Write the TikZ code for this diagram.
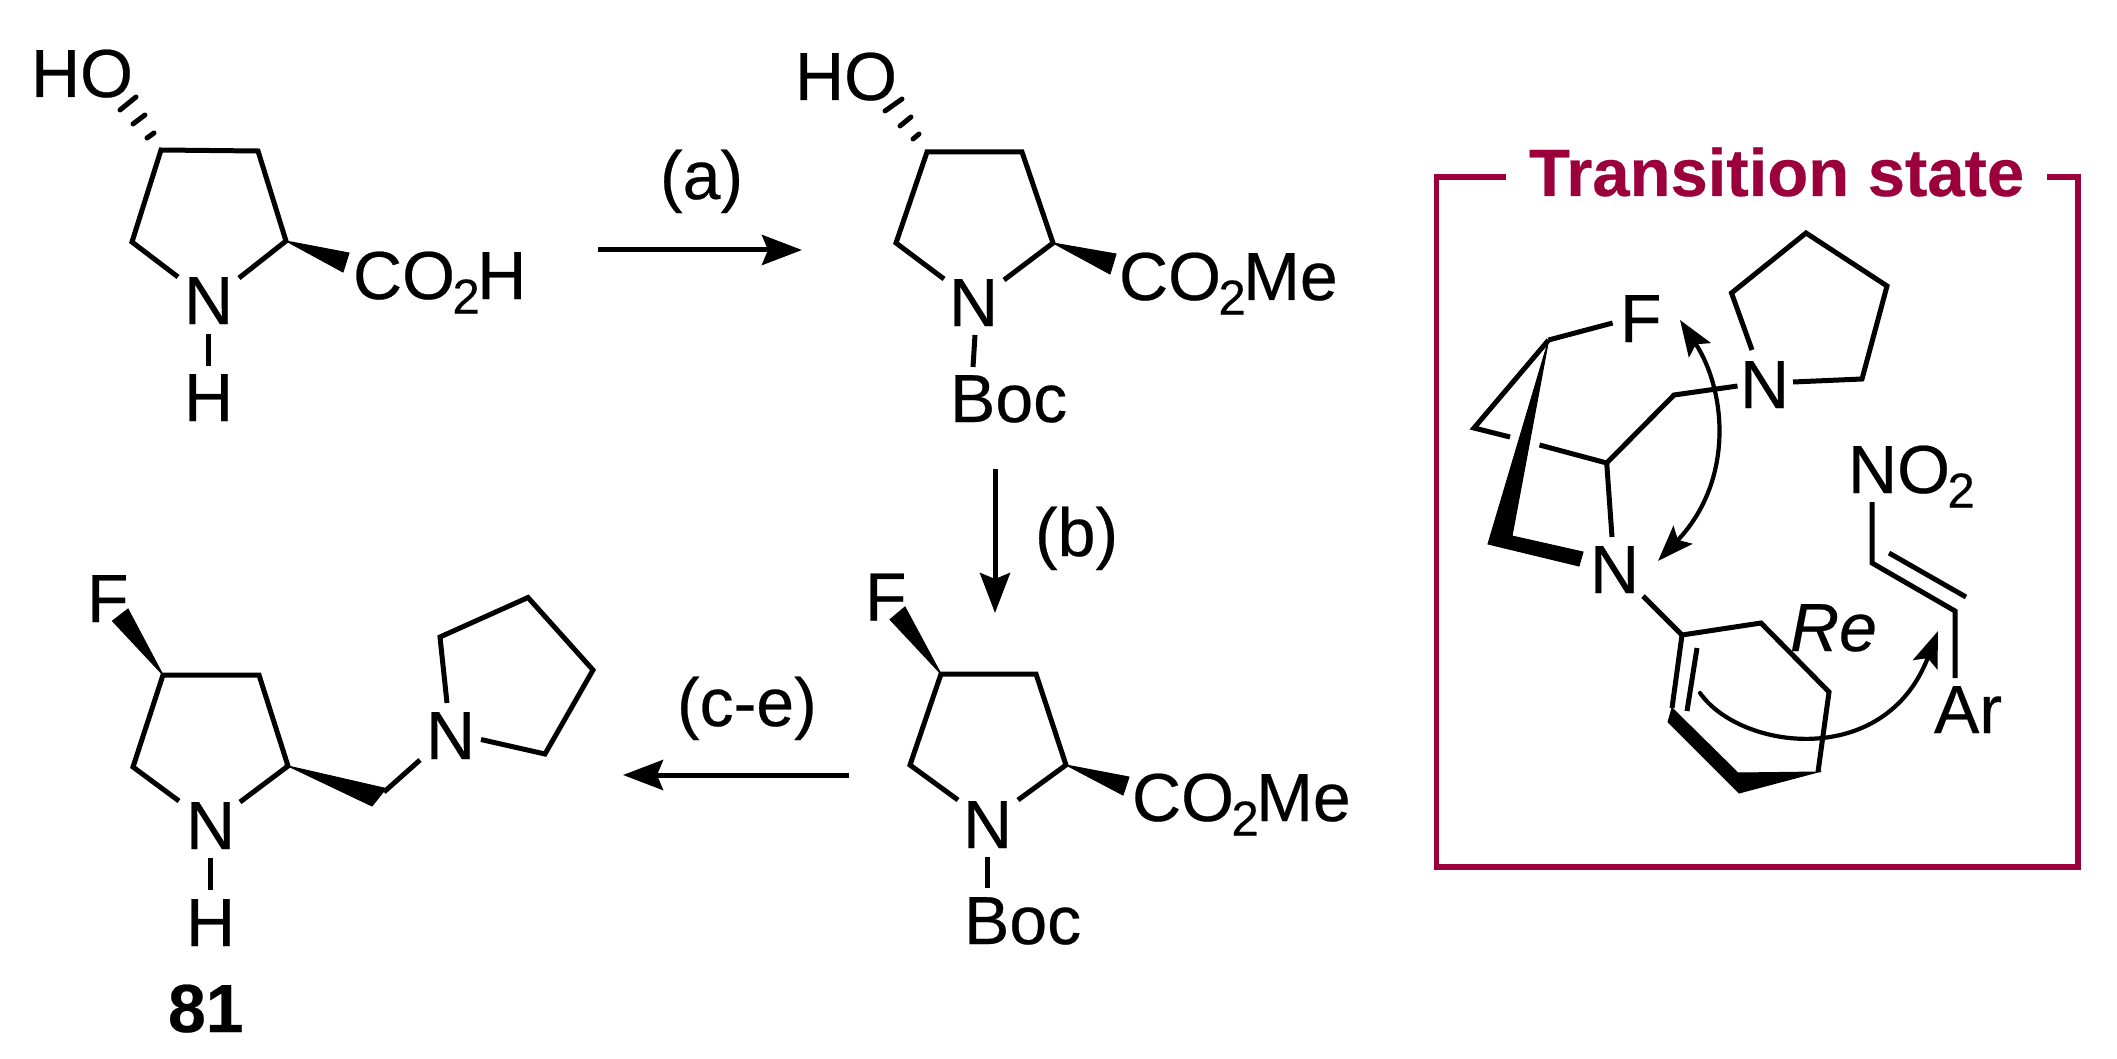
\documentclass[tikz,border=0pt]{standalone}
\usepackage{fontspec}
\setmainfont{Liberation Sans}[FakeBold=0.35]
\usetikzlibrary{arrows.meta}
\definecolor{tsred}{RGB}{155,0,60}
\newcommand\subtwo{\kern-2.5pt\raisebox{-14.5pt}{\fontsize{49}{60}\selectfont 2}\kern-2.5pt}
\tikzset{
  bond/.style={line width=5pt,line join=miter,line cap=butt},
  hashb/.style={line width=5pt,line cap=round},
  wedge/.style={fill=black,draw=black,line width=1pt,line join=miter},
  txt/.style={inner sep=0pt,outer sep=0pt,anchor=base west,font=\fontsize{68}{80}\selectfont},
  rxn/.style={line width=5pt,-{Stealth[length=40pt,width=30pt,inset=6pt]}},
  curly/.style={line width=4.2pt},
  frame/.style={draw=tsred,line width=5.5pt,line join=miter}
}
\begin{document}
\begin{tikzpicture}[x=1pt,y=-1pt]
\useasboundingbox (0,0) rectangle (2117,1059);
\fill[white] (0,0) rectangle (2117,1059);
% ---- compound 1
\coordinate (a4) at (161,150); \coordinate (a3) at (258,151); \coordinate (a2) at (286,241); \coordinate (a5) at (132,242);
\coordinate (an1) at (178,277); \coordinate (an2) at (239,278); \coordinate (anh1) at (208,334); \coordinate (anh2) at (208,366);
\coordinate (aw1) at (349,253); \coordinate (aw2) at (343,272);
\coordinate (ah1) at (120,110); \coordinate (ah2) at (136,97); \coordinate (ah3) at (133,124); \coordinate (ah4) at (145,115); \coordinate (ah5) at (147,138); \coordinate (ah6) at (154,133);
\node[txt] (aHO) at (31,97) {HO};
\node[txt] (aCO) at (353,299) {CO\subtwo H};
\node[txt] (aN) at (184,324) {N};
\node[txt] (aH) at (184,421) {H};
\draw[bond] (an1) -- (a5) -- (a4) -- (a3) -- (a2) -- (an2);
\draw[bond] (anh1) -- (anh2);
\fill[wedge] (a2) -- (aw1) -- (aw2) -- cycle;
\draw[hashb] (ah1) -- (ah2); \draw[hashb] (ah3) -- (ah4); \draw[hashb] (ah5) -- (ah6);
% ---- compound 2
\coordinate (b4) at (927,152); \coordinate (b3) at (1022,152); \coordinate (b2) at (1053,243); \coordinate (b5) at (896,243);
\coordinate (bn1) at (944,279); \coordinate (bn2) at (1004,280); \coordinate (bnb1) at (975,335); \coordinate (bnb2) at (973,367);
\coordinate (bw1) at (1116,254); \coordinate (bw2) at (1110,274);
\coordinate (bh1) at (885,111); \coordinate (bh2) at (902,99); \coordinate (bh3) at (900,126); \coordinate (bh4) at (911,117); \coordinate (bh5) at (913,139); \coordinate (bh6) at (919,134);
\node[txt] (bHO) at (795,100) {HO};
\node[txt] (bCO) at (1119,300) {CO\subtwo Me};
\node[txt] (bN) at (949,326) {N};
\node[txt] (bBoc) at (950,422) {Boc};
\draw[bond] (bn1) -- (b5) -- (b4) -- (b3) -- (b2) -- (bn2);
\draw[bond] (bnb1) -- (bnb2);
\fill[wedge] (b2) -- (bw1) -- (bw2) -- cycle;
\draw[hashb] (bh1) -- (bh2); \draw[hashb] (bh3) -- (bh4); \draw[hashb] (bh5) -- (bh6);
% ---- compound 3
\coordinate (c4) at (941,674); \coordinate (c3) at (1036,674); \coordinate (c2) at (1066,765); \coordinate (c5) at (910,765);
\coordinate (cn1) at (958,800); \coordinate (cn2) at (1018,800); \coordinate (cnb1) at (987.5,857); \coordinate (cnb2) at (987.5,888);
\coordinate (cw1) at (1129,777); \coordinate (cw2) at (1123,795); \coordinate (cf1) at (905,607); \coordinate (cf2) at (890,619.5);
\node[txt] (cF) at (865,620.5) {F};
\node[txt] (cCO) at (1132,821) {CO\subtwo Me};
\node[txt] (cN) at (963,848) {N};
\node[txt] (cBoc) at (964,944) {Boc};
\draw[bond] (cn1) -- (c5) -- (c4) -- (c3) -- (c2) -- (cn2);
\draw[bond] (cnb1) -- (cnb2);
\fill[wedge] (c2) -- (cw1) -- (cw2) -- cycle;
\fill[wedge] (c4) -- (cf1) -- (cf2) -- cycle;
% ---- compound 81
\coordinate (d4) at (163,675); \coordinate (d3) at (259,675); \coordinate (d2) at (288,766); \coordinate (d5) at (133,767);
\coordinate (dn1) at (179,801); \coordinate (dn2) at (240,802); \coordinate (dnh1) at (210,858); \coordinate (dnh2) at (210,890);
\coordinate (df1) at (128,609); \coordinate (df2) at (112.5,621);
\coordinate (dw1) at (386,788.5); \coordinate (dw2) at (372,806); \coordinate (dc1) at (384,792); \coordinate (dc2) at (420,760);
\coordinate (p1) at (447,703); \coordinate (p2) at (440,637); \coordinate (p3) at (528,597.5); \coordinate (p4) at (593,670); \coordinate (p5) at (545,754); \coordinate (p6) at (481,739.5);
\node[txt] (dF) at (87,622) {F};
\node[txt] (dN) at (186,849) {N};
\node[txt] (dH) at (186,946) {H};
\node[txt] (dNp) at (426,759) {N};
\node[txt,font=\fontsize{68}{80}\selectfont\bfseries] (d81) at (168,1032) {81};
\draw[bond] (dn1) -- (d5) -- (d4) -- (d3) -- (d2) -- (dn2);
\draw[bond] (dnh1) -- (dnh2);
\fill[wedge] (d2) -- (dw1) -- (dw2) -- cycle;
\fill[wedge] (d4) -- (df1) -- (df2) -- cycle;
\draw[bond] (dc1) -- (dc2);
\draw[bond] (p1) -- (p2) -- (p3) -- (p4) -- (p5) -- (p6);
% ---- reaction arrows
\coordinate (ra1) at (598,250); \coordinate (ra2) at (802,250);
\coordinate (rb1) at (995,469); \coordinate (rb2) at (995,613);
\coordinate (rc1) at (849,775); \coordinate (rc2) at (623,775);
\draw[rxn] (ra1) -- (ra2);
\draw[rxn] (rb1) -- (rb2);
\draw[rxn] (rc1) -- (rc2);
\node[txt] (la) at (660,199) {(a)};
\node[txt] (lb) at (1035,556) {(b)};
\node[txt] (lc) at (677,726) {(c-e)};
% ---- frame
\coordinate (f1) at (1506,177); \coordinate (f2) at (1436.5,177); \coordinate (f3) at (1436.5,867); \coordinate (f4) at (2078,867); \coordinate (f5) at (2078,177); \coordinate (f6) at (2047,177);
\draw[frame] (f1) -- (f2) -- (f3) -- (f4) -- (f5) -- (f6);
\node[txt,text=tsred,font=\fontsize{67}{80}\selectfont\bfseries] (title) at (1529,196) {Transition state};
% ---- transition state
\coordinate (t1) at (1548.6,340); \coordinate (tf) at (1612.6,323); \coordinate (t2) at (1474,428); \coordinate (t3) at (1510,437);
\coordinate (t4) at (1539.5,445); \coordinate (t5) at (1606.7,463); \coordinate (t6) at (1674,395); \coordinate (t7) at (1737.5,386);
\coordinate (t8) at (1612,537);
\coordinate (q1) at (1793,382); \coordinate (q2) at (1862,379); \coordinate (q3) at (1887,286); \coordinate (q4) at (1806,233); \coordinate (q5) at (1731.5,293); \coordinate (q6) at (1752,350);
\coordinate (w1) at (1512,536); \coordinate (w2) at (1583,552); \coordinate (w3) at (1579,566); \coordinate (w4) at (1488,544);
\coordinate (e0) at (1643,596); \coordinate (e1) at (1682,635); \coordinate (e2) at (1761,623); \coordinate (e3) at (1829,692); \coordinate (e4) at (1818,772);
\coordinate (e5) at (1738,773); \coordinate (e6) at (1739,793); \coordinate (e7) at (1668,722); \coordinate (e8) at (1672,708);
\coordinate (e9) at (1697,648); \coordinate (e10) at (1687,711);
\coordinate (n1) at (1872,502); \coordinate (n2) at (1872,563); \coordinate (n3) at (1955,611); \coordinate (n4) at (1889,553); \coordinate (n5) at (1966,597); \coordinate (n6) at (1955,678);
\node[txt] (tF) at (1620,342) {F};
\node[txt] (tNp) at (1740,408) {N};
\node[txt] (tN) at (1590,593) {N};
\node[txt] (tRe) at (1790,651) {\itshape Re};
\node[txt] (tNO) at (1848,493) {NO\subtwo};
\node[txt] (tAr) at (1934,733) {Ar};
\draw[bond] (t1) -- (tf);
\draw[bond] (t3) -- (t2) -- (t1);
\draw[bond] (t4) -- (t5) -- (t6) -- (t7);
\draw[bond] (t5) -- (t8);
\draw[bond] (q1) -- (q2) -- (q3) -- (q4) -- (q5) -- (q6);
\fill[wedge] (t1) -- (w1) -- (w2) -- (w3) -- (w4) -- cycle;
\draw[bond] (e0) -- (e1) -- (e2) -- (e3) -- (e4);
\draw[bond] (e1) -- (e8);
\draw[bond] (e9) -- (e10);
\fill[wedge] (e8) -- (e5) -- (e4) -- (e6) -- (e7) -- cycle;
\draw[bond] (n1) -- (n2) -- (n3) -- (n6);
\draw[bond] (n4) -- (n5);
% ---- curved arrows
\coordinate (ca1) at (1680,320); \coordinate (ca2) at (1658,561);
\coordinate (cb1) at (1700,693); \coordinate (cb2) at (1938,631);
\draw[curly,{Stealth[length=36pt,width=26pt,inset=7pt]}-{Stealth[length=36pt,width=26pt,inset=7pt]}] (ca1) .. controls (1726,390) and (1735,480) .. (ca2);
\draw[curly,line cap=round,-{Stealth[length=36pt,width=26pt,inset=7pt]}] (cb1) .. controls (1740,750) and (1885,770) .. (cb2);
\end{tikzpicture}
\end{document}
